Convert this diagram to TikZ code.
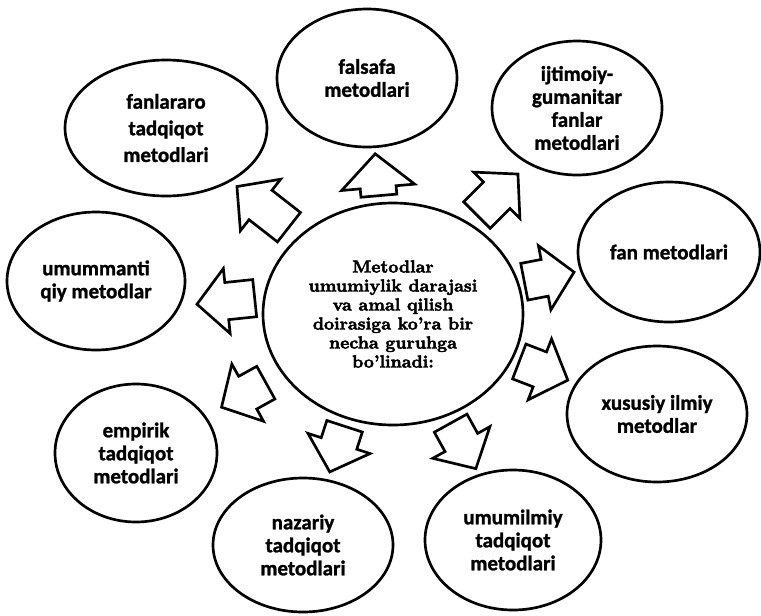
\documentclass[tikz,border=0pt]{standalone}
\usepackage{fontspec}
\newfontfamily\calfont{Carlito}[BoldFeatures={FakeBold=1.2}]
\newfontfamily\hubfont{lmroman10-bold.otf}[Ligatures=TeX, FakeBold=2.5]
\usetikzlibrary{shapes.geometric,shapes.arrows}

\tikzset{every picture/.style={line width=0.75pt}}
\tikzset{
	method/.style={draw, ellipse, line width=2pt, inner sep=0pt, align=center,
		font=\calfont\bfseries\fontsize{15.75}{17.25}\selectfont},
	hub/.style={draw, ellipse, line width=2pt, inner sep=0pt, align=center,
		font=\hubfont\fontsize{13.1}{14.25}\selectfont},
	blockarrow/.style={draw, single arrow, line width=2pt, fill=white, inner xsep=0pt, inner ysep=13pt,
		single arrow head extend=10.5pt, single arrow tip angle=95, anchor=tail}
}

\begin{document}
\begin{tikzpicture}[x=0.75pt,y=0.75pt,yscale=-1,xscale=1]
	\useasboundingbox (0,0) rectangle (761,615);
	
	%Central ellipse
	\node[hub, minimum width=195pt, minimum height=166.5pt] (markaz) at (393,314) {Metodlar\\umumiylik darajasi\\va amal qilish\\doirasiga ko'ra bir\\necha guruhga\\bo'linadi:};
	
	%Outer ellipses
	\node[method, minimum width=135pt, minimum height=103.5pt] (falsafa) at (367,78) {falsafa\\metodlari};
	\node[method, minimum width=127.5pt, minimum height=100.5pt] (ijtimoiy) at (577,108) {ijtimoiy-\\gumanitar\\fanlar\\metodlari};
	\node[method, minimum width=136.5pt, minimum height=105pt] (fan) at (669,252) {fan metodlari};
	\node[method, minimum width=135pt, minimum height=102pt] (xususiy) at (657,414) {xususiy ilmiy\\metodlar};
	\node[method, minimum width=132pt, minimum height=105pt] (umumilmiy) at (513,540) {umumilmiy\\tadqiqot\\metodlari};
	\node[method, minimum width=135pt, minimum height=100.5pt] (nazariy) at (303,545) {nazariy\\tadqiqot\\metodlari};
	\node[method, minimum width=121.5pt, minimum height=103.5pt] (empirik) at (136,453) {empirik\\tadqiqot\\metodlari};
	\node[method, minimum width=133.5pt, minimum height=103.5pt] (mantiqiy) at (96,281) {umummanti\\qiy metodlar};
	\node[method, minimum width=151.5pt, minimum height=102pt, font=\calfont\bfseries\fontsize{15.75}{20}\selectfont] (fanlararo) at (166,128) {fanlararo\\tadqiqot\\metodlari};
	
	%Block arrows
	\node[blockarrow, rotate=95, minimum height=31.5pt, inner ysep=12.5pt, single arrow head extend=14pt] (afalsafa) at (379,197) {};
	\node[blockarrow, rotate=45, minimum height=43.5pt] (aijtimoiy) at (476,216) {};
	\node[blockarrow, rotate=11, minimum height=38pt] (afan) at (523,282) {};
	\node[blockarrow, rotate=-21, minimum height=39pt] (axususiy) at (518,361) {};
	\node[blockarrow, rotate=-61, minimum height=39pt] (aumumilmiy) at (450,422) {};
	\node[blockarrow, rotate=-108, minimum height=36pt] (anazariy) at (345,425) {};
	\node[blockarrow, rotate=209, minimum height=38pt] (aempirik) at (267,382) {};
	\node[blockarrow, rotate=186, minimum height=43.5pt] (amantiqiy) at (256,298) {};
	\node[blockarrow, rotate=142, minimum height=49.5pt] (afanlararo) at (290,228) {};
	
\end{tikzpicture}
\end{document}
